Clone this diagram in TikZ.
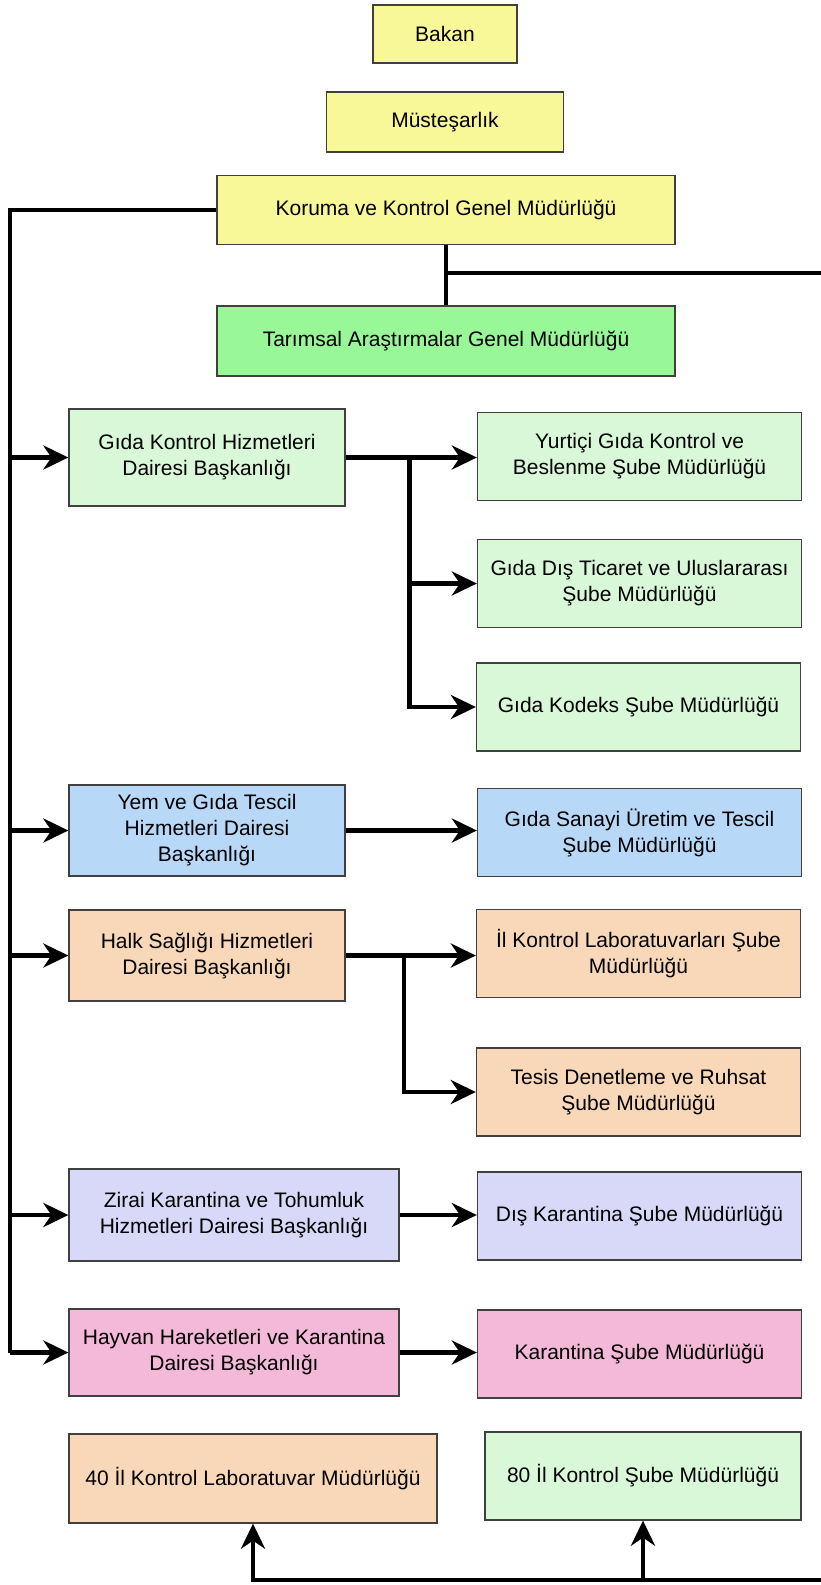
\documentclass[tikz,border=0pt]{standalone}
\usepackage{fontspec}
\setmainfont{Liberation Sans}
\usepackage{tikz}
\usetikzlibrary{arrows.meta,positioning}

\definecolor{top-level}{HTML}{F8F898}
\definecolor{research}{HTML}{98F898}
\definecolor{food}{HTML}{D8F8D8}
\definecolor{register}{HTML}{B8D8F8}
\definecolor{health}{HTML}{F8D8B8}
\definecolor{plant}{HTML}{D8D8F8}
\definecolor{animal}{HTML}{F4B8D8}

\begin{document}
\begin{tikzpicture}
    [
      x=1pt, y=-1pt,
      unit/.style={rectangle,draw=black!75,line width=1.3pt,inner sep=0pt,align=center,
        font=\fontsize{21}{26}\selectfont},
      dept/.style={unit,minimum width=276pt,minimum height=91pt},
      wide-dept/.style={unit,minimum width=330pt,minimum height=90pt},
      office/.style={unit,minimum width=324pt,minimum height=88pt},
      link/.style={line width=4.5pt},
      post/.style={-{Stealth[length=25pt,width=24pt,inset=8pt]},line width=4.5pt},
    ]

    \useasboundingbox (0,0) rectangle (821,1585);

    \node (bakan) [unit,fill=top-level,minimum width=144pt,minimum height=58pt] at (445,34) {Bakan};
    \node (mustesarlik) [unit,fill=top-level,minimum width=237pt,minimum height=60pt] at (445,122) {Müsteşarlık};
    \node (koruma) [unit,fill=top-level,minimum width=458pt,minimum height=69pt] at (446,210) {Koruma ve Kontrol Genel Müdürlüğü};
    \node (tarimsal) [unit,fill=research,minimum width=458pt,minimum height=70pt] at (446,341) {Tarımsal Araştırmalar Genel Müdürlüğü};

    \node (gida-kontrol) [dept,fill=food,minimum height=97pt] at (207,457.5) {Gıda Kontrol Hizmetleri\\Dairesi Başkanlığı};
    \node (yurtici) [office,fill=food] at (639.5,456.5) {Yurtiçi Gıda Kontrol ve\\Beslenme Şube Müdürlüğü};
    \node (gida-dis) [office,fill=food] at (639.5,583.5) {Gıda Dış Ticaret ve Uluslararası\\Şube Müdürlüğü};
    \node (gida-kodeks) [office,fill=food] at (638.5,707) {Gıda Kodeks Şube Müdürlüğü};

    \node (yem-gida) [dept,fill=register] at (207,830.5) {Yem ve Gıda Tescil\\Hizmetleri Dairesi\\Başkanlığı};
    \node (gida-sanayi) [office,fill=register] at (639.5,832.5) {Gıda Sanayi Üretim ve Tescil\\Şube Müdürlüğü};

    \node (halk-sagligi) [dept,fill=health] at (207,955.5) {Halk Sağlığı Hizmetleri\\Dairesi Başkanlığı};
    \node (il-lab-sube) [office,fill=health] at (638.5,953.5) {İl Kontrol Laboratuvarları Şube\\Müdürlüğü};
    \node (tesis) [office,fill=health] at (638.5,1092) {Tesis Denetleme ve Ruhsat\\Şube Müdürlüğü};

    \node (zirai) [wide-dept,fill=plant,minimum height=92pt] at (234,1215) {Zirai Karantina ve Tohumluk\\Hizmetleri Dairesi Başkanlığı};
    \node (dis-karantina) [office,fill=plant] at (639.5,1216) {Dış Karantina Şube Müdürlüğü};

    \node (hayvan) [wide-dept,fill=animal,minimum height=87pt] at (234,1352.5) {Hayvan Hareketleri ve Karantina\\Dairesi Başkanlığı};
    \node (karantina-sube) [office,fill=animal] at (639.5,1354) {Karantina Şube Müdürlüğü};

    \node (il-lab) [unit,fill=health,minimum width=368pt,minimum height=89pt] at (253,1478.5) {40 İl Kontrol Laboratuvar Müdürlüğü};
    \node (il-sube) [unit,fill=food,minimum width=316pt,minimum height=88pt] at (643,1476) {80 İl Kontrol Şube Müdürlüğü};

    % trunk on the left and the lines running off the right side
    \coordinate (trunk) at (10,1352.5);
    \coordinate (east-out) at (821,273);
    \coordinate (south-in) at (821,1580);
    \coordinate (gida-fork) at (409.5,457.5);
    \coordinate (halk-fork) at (404,955.5);

    \draw [link] (koruma.west) -| (trunk);
    \draw [link] (koruma) -- (tarimsal);
    \draw [link] (koruma.south |- east-out) -- (east-out);

    \path
    (trunk |- gida-kontrol) edge [post] (gida-kontrol.west)
    (trunk |- yem-gida) edge [post] (yem-gida.west)
    (trunk |- halk-sagligi) edge [post] (halk-sagligi.west)
    (trunk |- zirai) edge [post] (zirai.west)
    (trunk) edge [post] (hayvan.west)

    (gida-kontrol.east) edge [post] (gida-kontrol.east -| yurtici.west)
    (yem-gida.east) edge [post] (yem-gida.east -| gida-sanayi.west)
    (halk-sagligi.east) edge [post] (halk-sagligi.east -| il-lab-sube.west)
    (zirai.east) edge [post] (zirai.east -| dis-karantina.west)
    (hayvan.east) edge [post] (hayvan.east -| karantina-sube.west)
    ;

    \draw [post] (gida-fork) |- (gida-dis.west);
    \draw [post] (gida-fork) |- (gida-kodeks.west);
    \draw [post] (halk-fork) |- (tesis.west);

    \draw [post] (south-in) -| (il-lab.south);
    \path (il-sube.south |- south-in) edge [post] (il-sube.south);

  \end{tikzpicture}
\end{document}
